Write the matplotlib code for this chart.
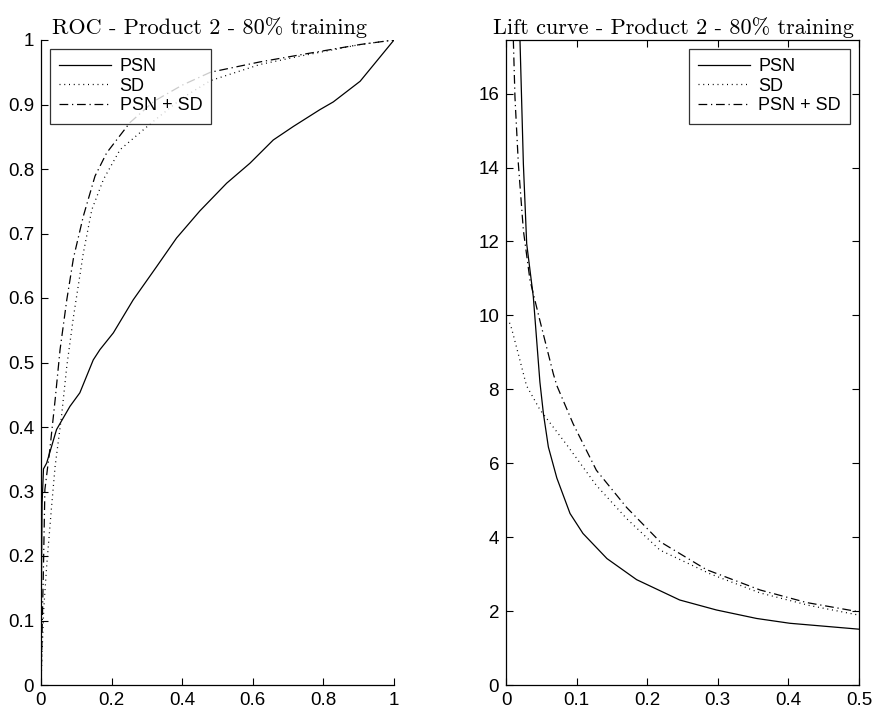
import matplotlib
matplotlib.use("Agg")
import matplotlib.pyplot as plt

# ---------------- data ----------------
roc_psn_x = [0, 0.001, 0.003, 0.007, 0.016, 0.044, 0.082, 0.11, 0.148, 0.167, 0.205, 0.261,
             0.328, 0.384, 0.45, 0.526, 0.592, 0.658, 0.715, 0.79, 0.828, 0.904, 1.0]
roc_psn_y = [0, 0.15, 0.28, 0.335, 0.344, 0.396, 0.432, 0.453, 0.504, 0.52, 0.546, 0.597,
             0.649, 0.693, 0.735, 0.778, 0.809, 0.845, 0.866, 0.892, 0.904, 0.936, 1.0]

roc_sd_x = [0, 0.003, 0.008, 0.016, 0.03, 0.04, 0.058, 0.073, 0.092, 0.12, 0.144, 0.177,
            0.224, 0.314, 0.4, 0.48, 0.62, 0.734, 0.904, 1.0]
roc_sd_y = [0, 0.05, 0.12, 0.184, 0.277, 0.339, 0.416, 0.494, 0.571, 0.67, 0.737, 0.784,
            0.83, 0.872, 0.91, 0.937, 0.962, 0.975, 0.993, 1.0]

roc_both_x = [0, 0.003, 0.007, 0.011, 0.025, 0.04, 0.054, 0.073, 0.092, 0.12, 0.153, 0.186,
              0.252, 0.32, 0.4, 0.48, 0.62, 0.734, 0.904, 1.0]
roc_both_y = [0, 0.08, 0.184, 0.303, 0.365, 0.442, 0.52, 0.597, 0.662, 0.727, 0.789, 0.825,
              0.872, 0.905, 0.93, 0.95, 0.966, 0.977, 0.993, 1.0]

lift_psn_x = [0.0198, 0.0246, 0.0293, 0.0387, 0.048, 0.053, 0.06, 0.072, 0.0907, 0.109,
              0.143, 0.185, 0.246, 0.298, 0.355, 0.402, 0.5]
lift_psn_y = [17.45, 14.1, 11.94, 10.5, 8.2, 7.34, 6.44, 5.6, 4.64, 4.1,
              3.42, 2.85, 2.30, 2.03, 1.80, 1.67, 1.51]

lift_sd_x = [0.005, 0.008, 0.0198, 0.029, 0.048, 0.086, 0.128, 0.171, 0.218, 0.29, 0.36, 0.43, 0.5]
lift_sd_y = [9.8, 9.64, 8.78, 8.1, 7.45, 6.5, 5.4, 4.5, 3.65, 3.0, 2.49, 2.15, 1.89]

lift_both_x = [0.0104, 0.0127, 0.0175, 0.0246, 0.034, 0.048, 0.067, 0.072, 0.095, 0.128,
               0.171, 0.218, 0.284, 0.36, 0.426, 0.5]
lift_both_y = [17.45, 15.9, 14.1, 12.3, 10.95, 9.86, 8.42, 8.1, 7.07, 5.81,
               4.8, 3.88, 3.12, 2.57, 2.23, 1.98]

series_names = ["PSN", "SD", "PSN + SD"]

roc_xticks = [0, 0.2, 0.4, 0.6, 0.8, 1.0]
roc_xticklabels = ["0", "0.2", "0.4", "0.6", "0.8", "1"]
roc_yticks = [0, 0.1, 0.2, 0.3, 0.4, 0.5, 0.6, 0.7, 0.8, 0.9, 1.0]
roc_yticklabels = ["0", "0.1", "0.2", "0.3", "0.4", "0.5", "0.6", "0.7", "0.8", "0.9", "1"]
lift_xticks = [0, 0.1, 0.2, 0.3, 0.4, 0.5]
lift_xticklabels = ["0", "0.1", "0.2", "0.3", "0.4", "0.5"]
lift_yticks = [0, 2, 4, 6, 8, 10, 12, 14, 16]
lift_yticklabels = ["0", "2", "4", "6", "8", "10", "12", "14", "16"]

title_left = "ROC - Product 2 - 80% training"
title_right = "Lift curve - Product 2 - 80% training"

# ---------------- style ----------------
plt.rcParams['font.family'] = ['Liberation Sans', 'DejaVu Sans']
FS = 13.5
LW = 0.9
styles = [dict(linestyle='-'),
          dict(linestyle=(0, (0.8, 3.0))),
          dict(linestyle=(0, (7, 3, 1, 3)))]

fig = plt.figure(figsize=(8.75, 7.13), dpi=100)
ax1 = fig.add_axes([41 / 875, 28 / 713, 353 / 875, 645 / 713])
ax2 = fig.add_axes([506 / 875, 28 / 713, 353 / 875, 645 / 713])

for (x, y), name, st in zip([(roc_psn_x, roc_psn_y), (roc_sd_x, roc_sd_y), (roc_both_x, roc_both_y)],
                            series_names, styles):
    ax1.plot(x, y, color='black', lw=LW, label=name, **st)

for (x, y), name, st in zip([(lift_psn_x, lift_psn_y), (lift_sd_x, lift_sd_y), (lift_both_x, lift_both_y)],
                            series_names, styles):
    ax2.plot(x, y, color='black', lw=LW, label=name, **st)

ax1.set_xlim(0, 1)
ax1.set_ylim(0, 1)
ax1.set_xticks(roc_xticks)
ax1.set_xticklabels(roc_xticklabels)
ax1.set_yticks(roc_yticks)
ax1.set_yticklabels(roc_yticklabels)
ax1.spines['top'].set_visible(False)
ax1.spines['right'].set_visible(False)
ax1.tick_params(direction='in', length=5, width=0.8, labelsize=FS, pad=5)

ax2.set_xlim(0, 0.5)
ax2.set_ylim(0, 17.45)
ax2.set_xticks(lift_xticks)
ax2.set_xticklabels(lift_xticklabels)
ax2.set_yticks(lift_yticks)
ax2.set_yticklabels(lift_yticklabels)
ax2.tick_params(direction='in', length=5, width=0.8, labelsize=FS, pad=5,
                top=True, right=True)

for ax in (ax1, ax2):
    for sp in ax.spines.values():
        sp.set_linewidth(0.9)

ax1.set_title(title_left, fontname='cmr10', fontsize=16, pad=4, x=0.478)
ax2.set_title(title_right, fontname='cmr10', fontsize=16, pad=4, x=0.475)

leg_kw = dict(fontsize=13, frameon=True, fancybox=False, edgecolor='black',
              handlelength=2.9, borderpad=0.5, labelspacing=0.15, handletextpad=0.45,
              borderaxespad=0.5)
l1 = ax1.legend(loc='upper left', **leg_kw)
l2 = ax2.legend(loc='upper right', **leg_kw)
for l in (l1, l2):
    l.get_frame().set_linewidth(0.9)

fig.savefig("out.png", dpi=100)
